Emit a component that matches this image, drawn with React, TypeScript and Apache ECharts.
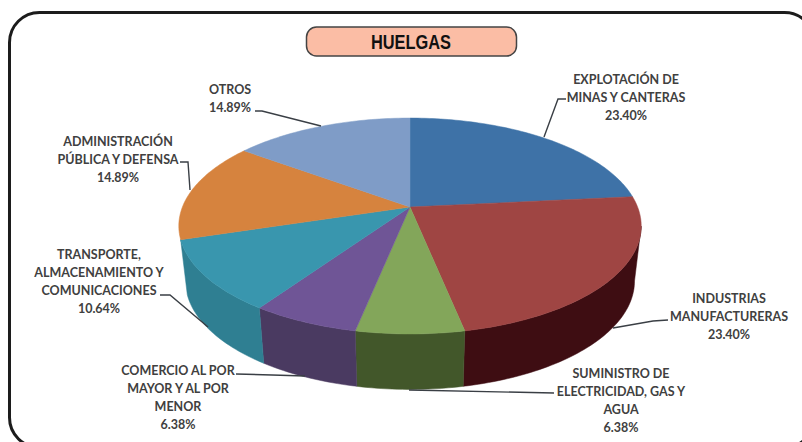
import React, { useEffect, useRef } from "react";
import * as echarts from "echarts";

const title = "HUELGAS";
const categories = [
  "EXPLOTACIÓN DE\nMINAS Y CANTERAS",
  "INDUSTRIAS\nMANUFACTURERAS",
  "SUMINISTRO DE\nELECTRICIDAD, GAS Y\nAGUA",
  "COMERCIO AL POR\nMAYOR Y AL POR\nMENOR",
  "TRANSPORTE,\nALMACENAMIENTO Y\nCOMUNICACIONES",
  "ADMINISTRACIÓN\nPÚBLICA Y DEFENSA",
  "OTROS",
];
const values = [23.4, 23.4, 6.38, 6.38, 10.64, 14.89, 14.89];
const valueLabels = ["23.40%", "23.40%", "6.38%", "6.38%", "10.64%", "14.89%", "14.89%"];
const topColors = ["#3E72A7", "#9F4543", "#83A65A", "#6F5596", "#3996AE", "#D6833E", "#7F9CC7"];
const sideColors = ["#2A4E72", "#3E0D12", "#42572A", "#4A3A61", "#2F7F92", "#8F5729", "#55698A"];
const labelCenters = [[626, 79], [729, 298], [621, 373], [178, 370], [99, 254], [118, 141], [230, 89]];
const leaders = [
  [[566, 99], [558, 99], [544, 137]],
  [[668, 320], [653, 321], [613, 328]],
  [[554, 393], [409, 390]],
  [[236, 374], [272, 375], [305, 376]],
  [[160, 295], [170, 295], [208, 327]],
  [[180, 162], [188, 162], [190, 190]],
  [[255, 111], [262, 111], [321, 126]],
];

const K = 0.176;
const project = (theta: number, cx: number, cy: number, a: number, b: number) => {
  const u = Math.sin(theta);
  const v = -Math.cos(theta);
  const s = 1 / (1 - K * v);
  return [cx + a * u * s, cy + b * v * s];
};
const top = (t: number) => project(t, 410, 207, 227.6, 104.6);
const bottom = (t: number) => project(t, 410, 262, 221, 105);
const sample = (a: number, b: number, f: (t: number) => number[]) => {
  const n = Math.max(2, Math.ceil(Math.abs(b - a) / 0.02));
  const pts: number[][] = [];
  for (let i = 0; i <= n; i++) pts.push(f(a + ((b - a) * i) / n));
  return pts;
};

const total = values.reduce((s, v) => s + v, 0);
const sideStart = Math.acos(-K * 1);
const sideIndexes = [1, 2, 3, 4];

export default function App() {
  const ref = useRef<HTMLDivElement>(null);
  useEffect(() => {
    const chart = echarts.init(ref.current!, null, { renderer: "svg" });
    const renderItem = (params: any) => {
      const i = params.dataIndex;
      const start = (values.slice(0, i).reduce((s, v) => s + v, 0) / total) * 2 * Math.PI;
      const end = start + (values[i] / total) * 2 * Math.PI;
      const children: any[] = [];
      if (sideIndexes.includes(i)) {
        const s0 = Math.max(start, sideStart);
        const pts = [...sample(s0, end, top), ...sample(end, s0, bottom)];
        children.push({
          type: "polygon",
          shape: { points: pts },
          style: { fill: sideColors[i], stroke: sideColors[i], lineWidth: 0.5 },
        });
      }
      children.push({
        type: "polygon",
        shape: { points: [[410, 207], ...sample(start, end, top)] },
        style: { fill: topColors[i], stroke: topColors[i], lineWidth: 0.5 },
      });
      return { type: "group", children };
    };
    const labelEls = categories.map((c, i) => ({
      type: "text",
      x: labelCenters[i][0],
      y: labelCenters[i][1] - 9,
      z: 10,
      style: {
        text: c + "\n" + valueLabels[i],
        fill: "#404040",
        fontFamily: "Lato",
        fontSize: 12.5,
        fontWeight: "bold",
        align: "center",
        lineHeight: 18,
      },
    }));
    const leaderEls = leaders.map((p) => ({
      type: "polyline",
      z: 9,
      shape: { points: p },
      style: { stroke: "#3A3F45", lineWidth: 1.4, fill: "none" },
    }));
    chart.setOption({
      animation: false,
      backgroundColor: "#FFFFFF",
      series: [
        {
          type: "custom",
          coordinateSystem: "none",
          renderItem,
          data: values.map((v, i) => ({ name: categories[i], value: v })),
          silent: true,
        },
      ],
      graphic: [
        {
          type: "rect",
          shape: { x: 9.5, y: 12.5, width: 805, height: 435, r: 30 },
          style: { fill: "none", stroke: "#1C1C1C", lineWidth: 3 },
        },
        {
          type: "rect",
          shape: { x: 306.5, y: 27, width: 210, height: 29, r: 10 },
          style: { fill: "#FBBDA5", stroke: "#444444", lineWidth: 1.5 },
        },
        {
          type: "text",
          x: 411,
          y: 41.5,
          scaleX: 0.82,
          style: {
            text: title,
            fill: "#111111",
            fontFamily: "Liberation Sans",
            fontSize: 20,
            fontWeight: "bold",
            align: "center",
            verticalAlign: "middle",
          },
        },
        ...leaderEls,
        ...labelEls,
      ],
    });
    return () => chart.dispose();
  }, []);
  return (
    <div
      ref={ref}
      style={{ position: "fixed", left: 0, top: 0, width: 802, height: 442, overflow: "hidden" }}
    />
  );
}
